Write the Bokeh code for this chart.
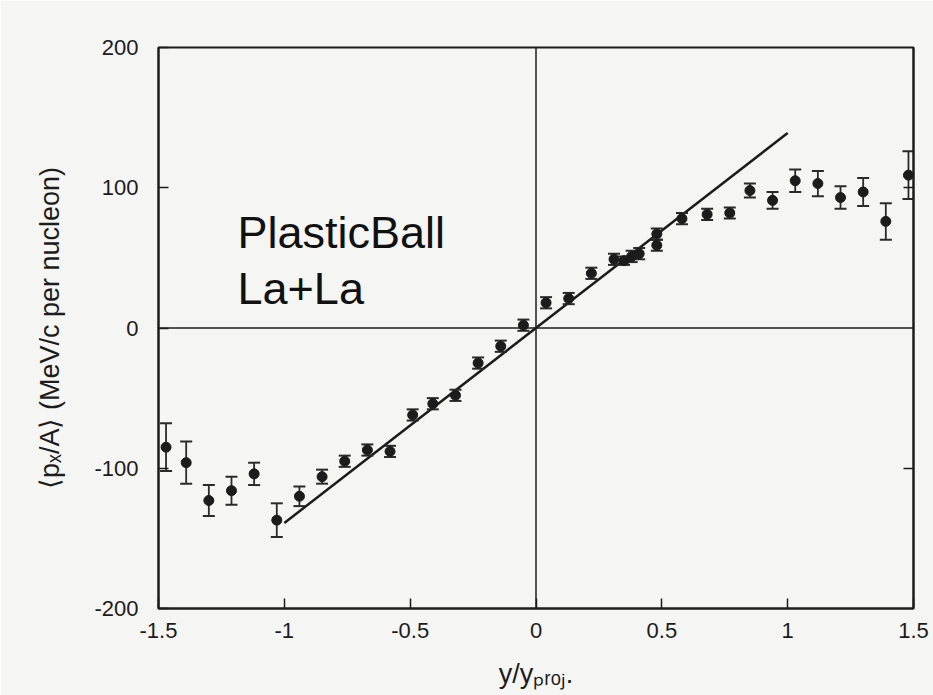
from bokeh.plotting import figure
from bokeh.models import Range1d, FixedTicker, LinearAxis, Span, ColumnDataSource
from bokeh.core.properties import value
from bokeh.embed import file_html
from bokeh.resources import INLINE

# ---- data ----
rapidity = [-1.47, -1.39, -1.30, -1.21, -1.12, -1.03, -0.94, -0.85, -0.76, -0.67,
            -0.58, -0.49, -0.41, -0.32, -0.23, -0.14, -0.05, 0.04, 0.13, 0.22,
            0.31, 0.35, 0.38, 0.41, 0.48, 0.48, 0.58, 0.68, 0.77, 0.85,
            0.94, 1.03, 1.12, 1.21, 1.30, 1.39, 1.48]
px_mean = [-85, -96, -123, -116, -104, -137, -120, -106, -95, -87,
           -88, -62, -54, -48, -25, -13, 2, 18, 21, 39,
           49, 48, 51, 53, 59, 67, 78, 81, 82, 98,
           91, 105, 103, 93, 97, 76, 109]
px_err = [17, 15, 11, 10, 8, 12, 7, 5, 4, 4,
          4, 4, 4, 4, 4, 4, 4, 4, 4, 4,
          4, 3, 4, 4, 4, 4, 4, 4, 4, 5,
          6, 8, 9, 8, 10, 13, 17]

fit_x = [-1.0, 1.0]
fit_y = [-139, 139]

x_tick_values = [-1.5, -1, -0.5, 0, 0.5, 1, 1.5]
x_tick_labels = ["-1.5", "-1", "-0.5", "0", "0.5", "1", "1.5"]
y_tick_values = [-200, -100, 0, 100, 200]
y_tick_labels = ["-200", "-100", "0", "100", "200"]
right_tick_values = [-100, 100]

annot_lines = ["PlasticBall", "La+La"]
annot_x = [-1.186, -1.186]
annot_y = [68.4, 28.5]

x_title = "y/y\u209a\u1d63\u2092\u2c7c."
y_title = "\u27e8p\u2093/A\u27e9 (MeV/c per nucleon)"

BG = "#f5f5f3"
INK = "#1c1c1c"
FONT = "Liberation Sans"

p = figure(width=933, height=695, output_backend="svg", toolbar_location=None,
           x_range=Range1d(-1.5, 1.5), y_range=Range1d(-200, 200),
           min_border_left=158, min_border_right=20, min_border_top=47, min_border_bottom=87)
p.background_fill_color = BG
p.border_fill_color = BG
p.outline_line_color = INK
p.outline_line_width = 2
p.grid.visible = False

# axes
xa = p.xaxis[0]
xa.ticker = FixedTicker(ticks=x_tick_values)
xa.major_label_overrides = {v: l for v, l in zip(x_tick_values, x_tick_labels)}
ya = p.yaxis[0]
ya.ticker = FixedTicker(ticks=y_tick_values)
ya.major_label_overrides = {v: l for v, l in zip(y_tick_values, y_tick_labels)}
for ax in (xa, ya):
    ax.axis_line_color = INK
    ax.axis_line_width = 2
    ax.major_tick_in = 10
    ax.major_tick_out = 0
    ax.minor_tick_line_color = None
    ax.major_tick_line_color = INK
    ax.major_tick_line_width = 1.5
    ax.major_label_text_font = FONT
    ax.major_label_text_font_size = "22px"
    ax.major_label_text_color = INK
    ax.axis_label_text_font = FONT
    ax.axis_label_text_font_size = "27px"
    ax.axis_label_text_font_style = "normal"
    ax.axis_label_text_color = INK
xa.major_label_standoff = 14
ya.major_label_standoff = 20

ya.axis_label = y_title
ya.axis_label_standoff = 26
xa.axis_label = x_title
xa.axis_label_standoff = 18

ra = LinearAxis(ticker=FixedTicker(ticks=right_tick_values))
ra.major_label_overrides = {v: "" for v in right_tick_values}
ra.major_label_standoff = 0
ra.major_tick_in = 10
ra.major_tick_out = 0
ra.minor_tick_line_color = None
ra.axis_line_color = INK
ra.axis_line_width = 2
ra.major_tick_line_color = INK
ra.major_tick_line_width = 1.5
p.add_layout(ra, "right")

# zero lines
p.add_layout(Span(location=0, dimension="width", line_color=INK, line_width=1.5))
p.add_layout(Span(location=0, dimension="height", line_color=INK, line_width=1.5))

# fit line
p.line(fit_x, fit_y, line_color=INK, line_width=2.5)

# data with error bars
lo = [m - e for m, e in zip(px_mean, px_err)]
hi = [m + e for m, e in zip(px_mean, px_err)]
src = ColumnDataSource(dict(x=rapidity, y=px_mean, lo=lo, hi=hi))
p.segment(x0="x", y0="lo", x1="x", y1="hi", source=src, line_color="#2a2a2a", line_width=1.8)
p.scatter(x="x", y="lo", source=src, marker="dash", size=12, line_color="#2a2a2a", line_width=2)
p.scatter(x="x", y="hi", source=src, marker="dash", size=12, line_color="#2a2a2a", line_width=2)
p.scatter(x="x", y="y", source=src, marker="circle", size=10, fill_color=INK, line_color=INK)

# annotation text
p.text(x=annot_x, y=annot_y, text=annot_lines, text_font=value(FONT), text_font_size="45px",
       text_color="#111111", text_align="left", text_baseline="alphabetic")

open("out.html", "w").write(file_html(p, INLINE))
